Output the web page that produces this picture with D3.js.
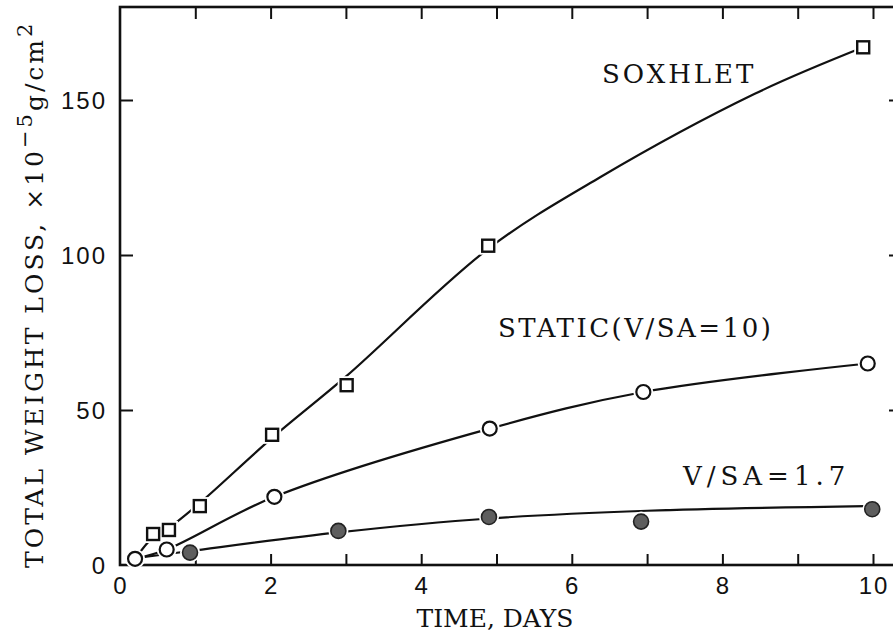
<!DOCTYPE html>
<html>
<head>
<meta charset="utf-8">
<script src="https://cdn.jsdelivr.net/npm/d3@7"></script>
<style>
  body { margin: 0; background: #fff; }
  .tick-label { font-family: "Liberation Sans", Arial, sans-serif; font-size: 24px; letter-spacing: 2px; fill: #111; }
  .lbl { font-family: "DejaVu Serif", "Liberation Serif", serif; fill: #111; }
</style>
</head>
<body>
<svg id="chart" width="893" height="644"></svg>
<script>
// Weight loss vs time
const xTicks = [0, 2, 4, 6, 8, 10];
const xMinorTicks = [1, 2, 3, 4, 5, 6, 7, 8, 9, 10];
const yTicks = [0, 50, 100, 150];

// measured points
const soxDays = [0.44, 0.65, 1.06, 2.02, 3.01, 4.89, 9.87];
const soxLoss = [10, 11.3, 19, 42, 58, 103, 167];
const staticDays = [0.2, 0.62, 2.05, 4.91, 6.95, 9.93];
const staticLoss = [2, 5, 22, 44, 55.8, 65];
const lowDays = [0.93, 2.9, 4.9, 6.92, 9.99];
const lowLoss = [4, 11, 15.5, 14, 18];

// hand-drawn fit curves (knots)
const soxCurveDays = [0.2, 0.44, 0.65, 1.06, 2.02, 3.01, 4.89, 6.37, 8.43, 9.87];
const soxCurveLoss = [2, 9, 12, 20, 41, 61, 102, 125, 152, 167];
const staticCurveDays = [0.2, 0.62, 2.05, 4.91, 6.95, 9.93];
const staticCurveLoss = [2, 5, 22, 44, 55.8, 65];
const lowCurveDays = [0.3, 0.93, 2.9, 4.9, 7.0, 9.9];
const lowCurveLoss = [2.5, 4.5, 10.5, 15, 17.5, 19];

const svg = d3.select('#chart');
const plotLeft = 120, plotRight = 903, plotTop = 7, plotBottom = 565;

const x = d3.scaleLinear().domain([0, 10]).range([120, 873]);
const y = d3.scaleLinear().domain([0, 180]).range([plotBottom, plotTop]);

const zip = (a, b) => a.map((v, i) => [v, b[i]]);

// curves
const line = d3.line().x(d => x(d[0])).y(d => y(d[1])).curve(d3.curveCatmullRom.alpha(0.5));
[[soxCurveDays, soxCurveLoss], [staticCurveDays, staticCurveLoss], [lowCurveDays, lowCurveLoss]]
    .forEach(([t, w]) => {
        svg.append('path')
            .attr('d', line(zip(t, w)))
            .attr('fill', 'none')
            .attr('stroke', '#111')
            .attr('stroke-width', 2.2);
    });

// frame
svg.append('rect')
    .attr('x', plotLeft).attr('y', plotTop)
    .attr('width', plotRight - plotLeft).attr('height', plotBottom - plotTop)
    .attr('fill', 'none').attr('stroke', '#111').attr('stroke-width', 2.6);

// axes with inward ticks
const xBottom = d3.axisBottom(x).tickValues(xMinorTicks).tickSize(-11).tickFormat('');
const xTop = d3.axisTop(x).tickValues(xMinorTicks).tickSize(-12).tickFormat('');
const yLeft = d3.axisLeft(y).tickValues(yTicks.slice(1)).tickSize(-13).tickFormat('');
const yRight = d3.axisRight(y).tickValues(yTicks.slice(1)).tickSize(-14).tickFormat('');

function styleAxis(g) {
    g.select('.domain').remove();
    g.selectAll('line').attr('stroke', '#111').attr('stroke-width', 2);
}
svg.append('g').attr('transform', `translate(0,${plotBottom})`).call(xBottom).call(styleAxis);
svg.append('g').attr('transform', `translate(0,${plotTop})`).call(xTop).call(styleAxis);
svg.append('g').attr('transform', `translate(${plotLeft},0)`).call(yLeft).call(styleAxis);
svg.append('g').attr('transform', `translate(${plotRight},0)`).call(yRight).call(styleAxis);

// tick labels
svg.append('g').selectAll('text').data(xTicks).join('text')
    .attr('class', 'tick-label')
    .attr('x', d => x(d) + 1).attr('y', 594)
    .attr('text-anchor', 'middle')
    .text(d => d);
svg.append('g').selectAll('text').data(yTicks).join('text')
    .attr('class', 'tick-label')
    .attr('x', 107).attr('y', d => y(d) + 9)
    .attr('text-anchor', 'end')
    .text(d => d);

// markers, with a white halo so the line breaks around them
const sq = 12, rOpen = 7, rFull = 7.5;
svg.append('g').selectAll('rect').data(zip(soxDays, soxLoss)).join('rect')
    .attr('x', d => x(d[0]) - sq / 2 - 3).attr('y', d => y(d[1]) - sq / 2 - 3)
    .attr('width', sq + 6).attr('height', sq + 6)
    .attr('fill', '#fff');
svg.append('g').selectAll('rect').data(zip(soxDays, soxLoss)).join('rect')
    .attr('x', d => x(d[0]) - sq / 2).attr('y', d => y(d[1]) - sq / 2)
    .attr('width', sq).attr('height', sq)
    .attr('fill', '#fff').attr('stroke', '#111').attr('stroke-width', 2.4);
svg.append('g').selectAll('circle').data(zip(staticDays, staticLoss)).join('circle')
    .attr('cx', d => x(d[0])).attr('cy', d => y(d[1])).attr('r', rOpen + 3)
    .attr('fill', '#fff');
svg.append('g').selectAll('circle').data(zip(staticDays, staticLoss)).join('circle')
    .attr('cx', d => x(d[0])).attr('cy', d => y(d[1])).attr('r', rOpen)
    .attr('fill', '#fff').attr('stroke', '#111').attr('stroke-width', 2.2);
svg.append('g').selectAll('circle').data(zip(lowDays, lowLoss)).join('circle')
    .attr('cx', d => x(d[0])).attr('cy', d => y(d[1])).attr('r', rFull + 2.5)
    .attr('fill', '#fff');
svg.append('g').selectAll('circle').data(zip(lowDays, lowLoss)).join('circle')
    .attr('cx', d => x(d[0])).attr('cy', d => y(d[1])).attr('r', rFull)
    .attr('fill', '#5e5e5e').attr('stroke', '#222').attr('stroke-width', 1.6);

// series labels
svg.append('text').attr('class', 'lbl')
    .attr('x', 602).attr('y', 83)
    .style('font-size', '26px').style('letter-spacing', '3px')
    .text('SOXHLET');
svg.append('text').attr('class', 'lbl')
    .attr('x', 498).attr('y', 337)
    .style('font-size', '26px').style('letter-spacing', '2.5px')
    .text('STATIC(V/SA=10)');
svg.append('text').attr('class', 'lbl')
    .attr('x', 683).attr('y', 485)
    .style('font-size', '26px').style('letter-spacing', '5px')
    .text('V/SA=1.7');

// axis titles
svg.append('text').attr('class', 'lbl')
    .attr('x', 495).attr('y', 627)
    .attr('text-anchor', 'middle')
    .style('font-size', '25px')
    .text('TIME, DAYS');

const yTitle = svg.append('text').attr('class', 'lbl')
    .attr('transform', 'translate(43,568) rotate(-90)')
    .style('font-size', '25px').style('letter-spacing', '3px');
yTitle.append('tspan').text('TOTAL WEIGHT LOSS, ×10');
yTitle.append('tspan').attr('dy', -11).style('font-size', '21px').text('−5');
yTitle.append('tspan').attr('dy', 11).text('g/cm');
yTitle.append('tspan').attr('dy', -11).style('font-size', '21px').text('2');
</script>
</body>
</html>
